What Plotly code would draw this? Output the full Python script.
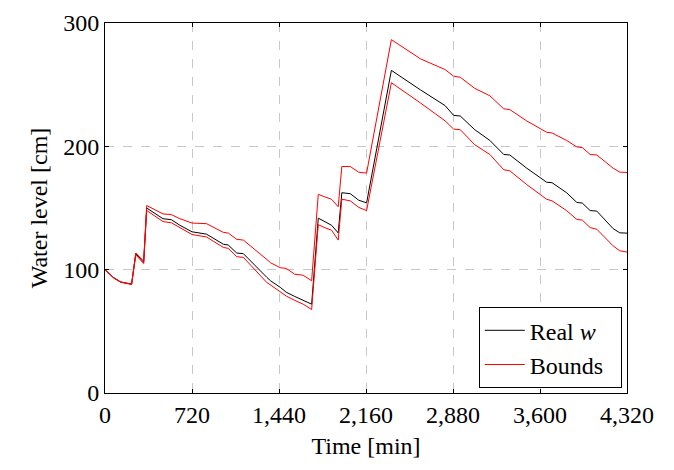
import plotly.graph_objects as go

time_min = [0, 70, 130, 220, 255, 320, 345, 480, 550, 620, 720, 840, 980, 1020, 1090, 1145,
            1340, 1370, 1450, 1500, 1570, 1640, 1710, 1765, 1820, 1875, 1930, 1960, 2030, 2100,
            2165, 2370, 2610, 2815, 2885, 2940, 3060, 3185, 3300, 3350, 3490, 3655, 3700, 3820,
            3905, 3950, 4015, 4070, 4205, 4260, 4320]
real_w = [100, 93.6, 90, 88.3, 113, 106, 150, 141.3, 140.5, 136, 130.7, 128.8, 120.6, 120, 113.5, 113,
          93.7, 91, 85.7, 81.7, 78.3, 75.1, 72, 141.8, 138.6, 136, 129.8, 162.4, 161.6, 156.3,
          154.2, 261.6, 245.8, 233, 225.1, 224.6, 213.5, 204.8, 193.4, 193, 182.3, 170.9, 170.5, 162.4,
          154.5, 154, 147.9, 147.5, 133.3, 129.9, 129.6]
upper = [100, 93.6, 90, 88.3, 113.5, 107, 152, 145.2, 144.6, 141.3, 137.8, 137.3, 130.2, 129.7, 124.6, 124,
         108.2, 105.6, 101.6, 101, 96.3, 95.5, 91, 161.1, 159, 157.1, 151, 183.6, 183.6, 179,
         178.3, 286.5, 271, 262.2, 256.9, 256, 247, 241, 230.4, 229.8, 220.6, 211.4, 210.8, 204.8,
         199.5, 199, 193.4, 193, 182.3, 179.1, 178.8]
lower = [100, 93.3, 89.8, 88, 112, 105, 148, 139, 138, 134, 128.5, 126.5, 118, 117.3, 110.5, 110,
         89.5, 87.6, 82.3, 78.6, 75.1, 72, 67.7, 136.5, 134, 132, 124, 157.1, 155.8, 150.5,
         147.9, 251.6, 235.2, 220.6, 214, 213.5, 201.3, 193.4, 181, 180.2, 169, 157.1, 155.8, 147.9,
         140.7, 140.2, 134.1, 132.8, 119.3, 115.3, 114.3]

x_ticks = [0, 720, 1440, 2160, 2880, 3600, 4320]
x_tick_text = ["0", "720", "1,440", "2,160", "2,880", "3,600", "4,320"]
y_ticks = [0, 100, 200, 300]

FONT = "Times New Roman, Liberation Serif, DejaVu Serif, serif"
FS = 24

fig = go.Figure()
fig.add_trace(go.Scatter(x=time_min, y=real_w, mode="lines", name="Real <i>w</i>&nbsp;&nbsp;",
                         line=dict(color="black", width=1)))
fig.add_trace(go.Scatter(x=time_min, y=upper, mode="lines", name="Bounds&nbsp;&nbsp;",
                         line=dict(color="#ff0000", width=1), legendgroup="b"))
fig.add_trace(go.Scatter(x=time_min, y=lower, mode="lines", name="Bounds", showlegend=False,
                         line=dict(color="#ff0000", width=1), legendgroup="b"))

axis_common = dict(showline=True, linecolor="black", linewidth=1, mirror="allticks",
                   ticks="inside", ticklen=4, tickcolor="black", automargin=False,
                   ticklabeloverflow="allow",
                   showgrid=True, gridcolor="#c8c8c8", griddash="dash", gridwidth=1,
                   zeroline=False, tickfont=dict(family=FONT, size=FS, color="black"))

fig.update_xaxes(range=[0, 4320], tickvals=x_ticks, ticktext=x_tick_text,
                 title=dict(text="Time [min]", font=dict(family=FONT, size=FS, color="black"), standoff=10),
                 **axis_common)
fig.update_yaxes(range=[0, 300], tickvals=y_ticks,
                 title=dict(text="Water level [cm]", font=dict(family=FONT, size=FS, color="black"), standoff=8),
                 **axis_common)

# page body adds an 8px offset, so the figure is shrunk/shifted to keep the plot box in place
fig.update_layout(
    width=666, height=462,
    margin=dict(l=97, r=47, t=15, b=77),
    paper_bgcolor="white", plot_bgcolor="white",
    font=dict(family=FONT, size=FS, color="black"),
    legend=dict(x=0.99, y=0.013, xanchor="right", yanchor="bottom",
                bordercolor="black", borderwidth=1, bgcolor="white",
                font=dict(family=FONT, size=FS, color="black"),
                tracegroupgap=0, itemwidth=40),
)

fig.write_html("out.html")
